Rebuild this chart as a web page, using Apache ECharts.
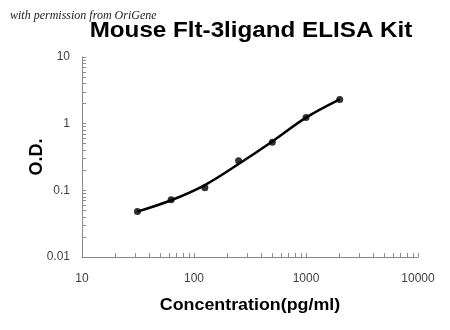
<!DOCTYPE html>
<html>
<head>
<meta charset="utf-8">
<script src="https://cdn.jsdelivr.net/npm/echarts@6/dist/echarts.min.js"></script>
<style>
  html, body { margin: 0; padding: 0; background: #fff; }
  #chart { width: 450px; height: 330px; }
</style>
</head>
<body>
<div id="chart"></div>
<script>
// Standard curve: concentration (pg/ml) vs optical density
const concentrations = [31.25, 62.5, 125, 250, 500, 1000, 2000];
const measuredOD = [0.048, 0.072, 0.109, 0.278, 0.525, 1.24, 2.31];
// Fitted standard curve evaluated at the same concentrations
const fittedOD = [0.048, 0.071, 0.12, 0.248, 0.54, 1.23, 2.31];

const xTickLabels = [10, 100, 1000, 10000];
const yTickLabels = [0.01, 0.1, 1, 10];

// Log-decade tick positions (1..9 within each decade)
function decadeTicks(lo, hi) {
  const out = [];
  for (let d = lo; d < hi * 0.999; d *= 10) {
    for (let k = 1; k <= 9; k++) out.push(+(d * k).toPrecision(6));
  }
  out.push(hi);
  return out;
}

const chart = echarts.init(document.getElementById('chart'), null, { renderer: 'canvas' });

const axisColor = '#8a8a8a';
const labelColor = '#404040';

chart.setOption({
  animation: false,
  backgroundColor: '#fff',
  graphic: [
    {
      type: 'text', x: 251, y: 31, scaleX: 1.1, originX: 0,
      style: {
        text: 'Mouse Flt-3ligand ELISA Kit',
        font: 'bold 22px "Liberation Sans"', fill: '#000',
        textAlign: 'center', textVerticalAlign: 'middle'
      }
    },
    {
      type: 'text', x: 10, y: 16,
      style: {
        text: 'with permission from OriGene',
        font: 'italic 12px "Liberation Serif"', fill: '#222',
        textAlign: 'left', textVerticalAlign: 'middle'
      }
    },
    {
      type: 'text', x: 250, y: 305, scaleX: 1.05,
      style: {
        text: 'Concentration(pg/ml)',
        font: 'bold 17px "Liberation Sans"', fill: '#000',
        textAlign: 'center', textVerticalAlign: 'middle'
      }
    },
    {
      type: 'text', x: 37, y: 157, rotation: Math.PI / 2,
      style: {
        text: 'O.D.',
        font: 'bold 18px "Liberation Sans"', fill: '#000',
        textAlign: 'center', textVerticalAlign: 'middle'
      }
    }
  ],
  grid: { left: 82, right: 32, top: 57, bottom: 73, containLabel: false },
  xAxis: {
    type: 'log',
    logBase: 10,
    min: 10, max: 10000,
    axisLine: { show: true, lineStyle: { color: axisColor, width: 1 } },
    axisTick: { show: true, inside: true, length: 4, lineStyle: { color: axisColor }, customValues: decadeTicks(10, 10000) },
    axisLabel: { customValues: xTickLabels, color: labelColor, fontFamily: 'Liberation Sans', fontSize: 12, margin: 16,
      formatter: v => String(Math.round(v)) },
    splitLine: { show: false }
  },
  yAxis: {
    type: 'log',
    logBase: 10,
    min: 0.01, max: 10,
    axisLine: { show: true, lineStyle: { color: axisColor, width: 1 } },
    axisTick: { show: true, inside: true, length: 4, lineStyle: { color: axisColor }, customValues: decadeTicks(0.01, 10) },
    axisLabel: { customValues: yTickLabels, color: labelColor, fontFamily: 'Liberation Sans', fontSize: 12, margin: 12,
      formatter: v => String(+v.toPrecision(3)) },
    splitLine: { show: false }
  },
  series: [
    {
      name: 'fit',
      type: 'line',
      data: concentrations.map((c, i) => [c, fittedOD[i]]),
      smooth: 0.35,
      showSymbol: false,
      symbol: 'none',
      lineStyle: { color: '#000', width: 2.5 },
      z: 2
    },
    {
      name: 'standards',
      type: 'scatter',
      data: concentrations.map((c, i) => [c, measuredOD[i]]),
      symbol: 'circle',
      symbolSize: 7,
      itemStyle: { color: '#000' },
      z: 3
    }
  ]
});
</script>
</body>
</html>
